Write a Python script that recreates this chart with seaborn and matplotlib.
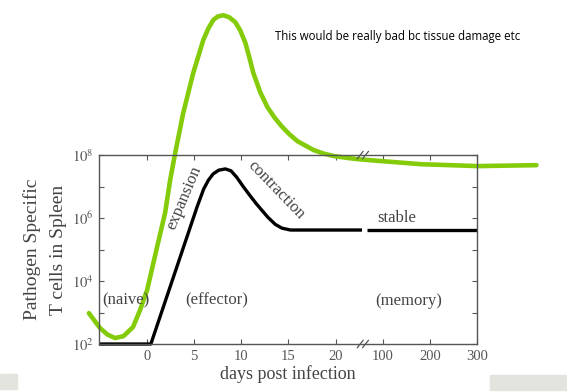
import numpy as np
import matplotlib
matplotlib.use("Agg")
import matplotlib.pyplot as plt
from matplotlib.patches import Rectangle
from matplotlib.ticker import FixedLocator, FuncFormatter
import seaborn as sns

# T cell response (black) - days post infection vs log10(cells)
tcell_days_early = [-5.1, 0.4, 5.3, 6.0, 6.5, 7.0, 7.6, 8.3, 8.9, 9.5, 10.2, 10.9,
                    11.6, 12.8, 13.6, 14.3, 15.2, 22.8]
tcell_log_early = [2.0, 2.0, 6.35, 6.92, 7.2, 7.4, 7.52, 7.56, 7.5, 7.3, 7.0, 6.72,
                   6.45, 6.03, 5.8, 5.68, 5.62, 5.62]
tcell_days_memory = [66, 300]
tcell_log_memory = [5.62, 5.62]

# hand-drawn green annotation curve
green_days = [-6.17, -5.0, -4.2, -3.4, -2.5, -1.49, -0.74, 0.0, 1.06, 1.91, 2.45, 2.98,
              3.83, 4.89, 5.96, 6.5, 7.02, 7.5, 8.09, 8.7, 9.36, 9.9, 10.43, 10.85,
              11.28, 12.0, 12.77, 13.5, 14.26, 15.1, 15.96, 17.66, 18.7, 19.79, 21.0,
              22.34, 96, 181, 302, 426]
green_log = [2.98, 2.51, 2.30, 2.19, 2.25, 2.54, 3.08, 3.71, 5.08, 6.16, 7.21, 8.06,
             9.33, 10.60, 11.65, 12.02, 12.29, 12.40, 12.44, 12.38, 12.22, 11.95, 11.56, 11.1,
             10.60, 10.0, 9.52, 9.2, 8.92, 8.66, 8.44, 8.16, 8.05, 7.97, 7.92,
             7.87, 7.81, 7.71, 7.65, 7.68]

x_ticks = [0, 5, 10, 15, 20, 100, 200, 300]
y_exps = [2, 3, 4, 5, 6, 7, 8]

sns.set_theme(style="ticks")
plt.rcParams["font.family"] = ["Liberation Serif", "DejaVu Serif"]
plt.rcParams["mathtext.fontset"] = "stix"


def forward(d):
    d = np.asarray(d, dtype=float)
    return np.where(d <= 23, d, 23 + np.clip(d - 60, 0, None) / 20)


def inverse(u):
    u = np.asarray(u, dtype=float)
    return np.where(u <= 23, u, 60 + (u - 23) * 20)


fig = plt.figure(figsize=(5.67, 3.92), dpi=100)
ax = fig.add_axes([0.1746, 0.1224, 0.6667, 0.482])

sns.lineplot(x=tcell_days_early, y=10 ** np.array(tcell_log_early), ax=ax,
             color="black", lw=2.4, sort=False, estimator=None, legend=False)
sns.lineplot(x=tcell_days_memory, y=10 ** np.array(tcell_log_memory), ax=ax,
             color="black", lw=2.4, sort=False, estimator=None, legend=False)
sns.lineplot(x=green_days, y=10 ** np.array(green_log), ax=ax,
             color="#84cc0a", lw=3.3, sort=False, estimator=None, legend=False)
for line in ax.lines:
    line.set_clip_on(False)
    line.set_solid_capstyle("butt")
    line.set_solid_joinstyle("round")
ax.lines[-1].set_solid_capstyle("round")

ax.set_xscale("function", functions=(forward, inverse))
ax.set_yscale("log")
ax.set_xlim(-5.1, 300)
ax.set_ylim(1e2, 1e8)

ax.xaxis.set_major_locator(FixedLocator(x_ticks))
ax.xaxis.set_minor_locator(FixedLocator([]))
ax.yaxis.set_major_locator(FixedLocator([10.0 ** e for e in y_exps]))
ax.yaxis.set_minor_locator(FixedLocator([]))
ax.yaxis.set_major_formatter(FuncFormatter(
    lambda v, p: f"$10^{{{int(round(np.log10(v)))}}}$" if int(round(np.log10(v))) % 2 == 0 else ""))
ax.tick_params(direction="in", top=True, right=True, length=3.5, width=0.8,
               labelsize=10.5, labelcolor="#555555", color="#555555", pad=4)

for s in ax.spines.values():
    s.set_color("#555555")
    s.set_linewidth(1.0)

ax.set_xlabel("days post infection", fontsize=13, color="#444444", labelpad=2)
ax.set_ylabel("Pathogen Specific\nT cells in Spleen", fontsize=14, color="#444444",
              labelpad=3, linespacing=1.75)

# axis break marks
xb = 0.698
for yb in (0.0, 1.0):
    for off in (-0.007, 0.007):
        ax.plot([xb + off - 0.008, xb + off + 0.008], [yb - 0.02, yb + 0.02],
                transform=ax.transAxes, color="#555555", lw=0.9, clip_on=False)

txt = dict(fontsize=12, color="#444444", ha="center", va="center")
ax.text(-2.2, 10 ** 3.37, "(naive)", **txt)
ax.text(7.4, 10 ** 3.37, "(effector)", **txt)
ax.text(156, 10 ** 3.37, "(memory)", **txt)
ax.text(130, 10 ** 6.0, "stable", **txt)
ax.text(3.9, 10 ** 6.63, "expansion", rotation=67, **txt)
ax.text(13.7, 10 ** 6.89, "contraction", rotation=-46, **txt)

fig.text(0.485, 0.906, "This would be really bad bc tissue damage etc",
         fontsize=8.3, family=["Open Sans", "DejaVu Sans"], color="black",
         ha="left", va="center")

fig.patches.append(Rectangle((0, 1 - 389 / 392), 17 / 567, 15 / 392,
                             transform=fig.transFigure, color="#e2e4dd"))
fig.patches.append(Rectangle((490 / 567, 1 - 390 / 392), 77 / 567, 15 / 392,
                             transform=fig.transFigure, color="#e2e4dd"))

fig.savefig("out.png", dpi=100)
